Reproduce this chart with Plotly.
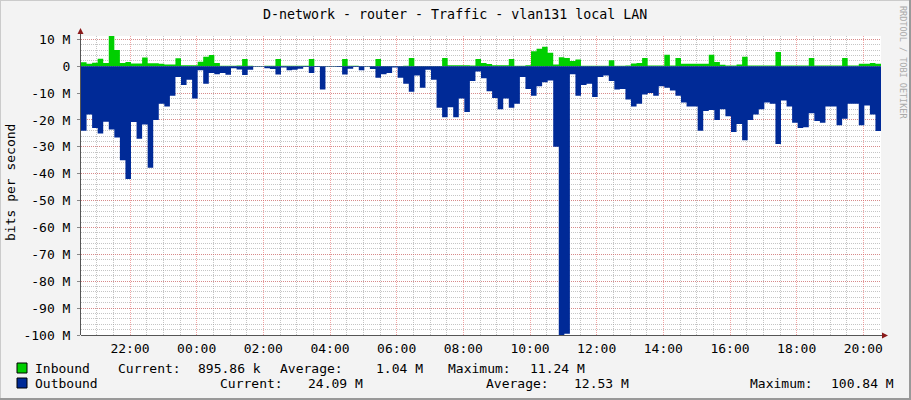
import plotly.graph_objects as go
import pandas as pd

# ---------------- data (Mbit/s, 10-minute samples) ----------------
start_time = "2024-05-13 20:31:48"
step_minutes = 10

inbound = [1.5, 0.9, 1.3, 2.8, 1.2, 11.24, 6.0, 1.2, 1.6, 1.0,
           1.0, 3.2, 1.1, 1.1, 0.9, 0.6, 0.6, 3.0, 0.4, 0.4,
           0.4, 1.7, 3.5, 4.2, 1.2, 0.2, 0.2, 0.2, 0.3, 2.7,
           0.2, 0.1, 0.1, 0.2, 0.2, 2.7, 0.2, 0.2, 0.2, 0.2,
           0.2, 2.7, 0.1, 0.1, 0.1, 0.1, 0.1, 2.7, 0.2, 0.2,
           0.1, 0.1, 0.1, 2.7, 0.1, 0.1, 0.1, 0.1, 0.2, 3.1,
           0.1, 0.1, 0.1, 0.1, 0.1, 3.1, 0.4, 0.4, 0.4, 0.4,
           0.3, 2.7, 1.2, 0.8, 0.4, 0.4, 0.4, 2.7, 0.2, 0.2,
           0.4, 5.6, 6.5, 7.2, 5.0, 0.6, 3.3, 3.1, 1.9, 2.5,
           0.2, 0.2, 0.2, 0.2, 0.2, 2.2, 0.2, 0.2, 0.3, 1.0,
           1.2, 3.1, 0.3, 0.3, 0.3, 4.3, 0.3, 3.1, 0.9, 0.9,
           0.9, 0.9, 0.9, 4.3, 1.6, 0.5, 0.3, 0.3, 0.6, 3.5,
           0.3, 0.3, 0.3, 0.3, 0.3, 5.3, 0.3, 0.3, 0.3, 0.3,
           0.3, 3.1, 0.3, 0.3, 0.3, 0.3, 0.3, 3.1, 0.3, 0.3,
           0.9, 0.9, 1.2, 0.896]

outbound = [24, 18, 23, 25, 20.7, 23.5, 26.5, 35, 42, 20.8,
            27, 21.7, 37.8, 20, 14, 15, 11, 4, 7, 5,
            12, 1.5, 6.5, 2.5, 3, 2.5, 3.2, 0.8, 1.2, 3.3,
            1.3, 0.2, 0.2, 0.8, 1.0, 3.1, 0.5, 1.5, 1.3, 0.9,
            0.3, 2.5, 0.3, 8.7, 0.2, 0.2, 0.3, 3.1, 0.9, 0.3,
            1.5, 0.2, 1.0, 4.3, 3, 2.5, 0.5, 4.3, 6.5, 9.5,
            3.5, 8, 1.3, 5, 15.5, 19, 15.3, 19, 12, 17,
            5.5, 2, 4.5, 9.3, 11.8, 16, 12, 15.5, 14, 4,
            8.5, 11, 7.5, 6, 5.3, 30, 100.84, 99.5, 3, 11,
            7, 6.5, 11.5, 4, 3.5, 5.5, 8.7, 8.5, 12.4, 15,
            14, 10.5, 10, 11, 7.5, 8, 9, 11, 13.5, 15,
            15, 24, 16.7, 16.3, 20, 16, 18.6, 24.5, 21.5, 27.5,
            20, 18, 16, 13.5, 14, 28.9, 12.8, 15, 21, 23,
            22.7, 17.5, 20.4, 21, 15, 15, 22, 19.5, 14, 14,
            22, 14.6, 18, 24.09]

y_tick_values = [10, 0, -10, -20, -30, -40, -50, -60, -70, -80, -90, -100]
y_tick_labels = ["10 M", "0", "-10 M", "-20 M", "-30 M", "-40 M", "-50 M",
                 "-60 M", "-70 M", "-80 M", "-90 M", "-100 M"]

title_text = "D-network - router - Traffic - vlan131 local LAN"
legend_rows = [
    ("Inbound", [("Current:", "895.86 k"), ("Average:", "1.04 M"), ("Maximum:", "11.24 M")]),
    ("Outbound", [("Current:", "24.09 M"), ("Average:", "12.53 M"), ("Maximum:", "100.84 M")]),
]

# ---------------- styling ----------------
GREEN = "#00CF00"
BLUE = "#002A97"
FONT = "DejaVu Sans Mono"
W, H = 911, 400
L, R, T, B = 81, 30, 36, 65
PW, PH = W - L - R, H - T - B


def px(x):
    return (x - L) / PW


def py(y):
    return (H - B - y) / PH


t0 = pd.Timestamp(start_time)
times = list(pd.date_range(t0, periods=len(outbound) + 1, freq=f"{step_minutes}min"))
t_end = t0 + pd.Timedelta(hours=24)

in_y = inbound + [inbound[-1]]
out_y = [-v for v in outbound] + [-outbound[-1]]

fig = go.Figure()
fig.add_trace(go.Scatter(x=times, y=in_y, mode="lines", line=dict(width=0, shape="hv", color=GREEN),
                         fill="tozeroy", fillcolor=GREEN, hoverinfo="skip", showlegend=False))
fig.add_trace(go.Scatter(x=times, y=out_y, mode="lines", line=dict(width=0, shape="hv", color=BLUE),
                         fill="tozeroy", fillcolor=BLUE, hoverinfo="skip", showlegend=False))

major = "rgba(230,90,90,0.55)"
minor = "rgba(150,150,150,0.55)"

fig.update_xaxes(
    range=[t0, t_end], type="date",
    tick0="2024-05-13 00:00", dtick=2 * 3600 * 1000, tickformat="%H:%M",
    showgrid=True, gridcolor=major, griddash="1px,1px", gridwidth=1,
    minor=dict(dtick=30 * 60 * 1000, showgrid=True, gridcolor=minor, griddash="1px,1px"),
    ticks="", showline=False, zeroline=False,
    tickfont=dict(family=FONT, size=13, color="#000"),
    ticklabelstandoff=4,
)
fig.update_yaxes(
    range=[-100, 11.24], tickvals=y_tick_values, ticktext=y_tick_labels,
    showgrid=True, gridcolor=major, griddash="1px,1px", gridwidth=1,
    minor=dict(dtick=2, showgrid=True, gridcolor=minor, griddash="1px,1px"),
    ticks="outside", ticklen=3, tickcolor="#888", showline=False, zeroline=False,
    tickfont=dict(family=FONT, size=13, color="#000"),
    ticklabelstandoff=4,
)

shapes = []
# outer frame (3D look)
shapes.append(dict(type="line", xref="paper", yref="paper", x0=px(0), x1=px(W), y0=py(0.5), y1=py(0.5),
                   line=dict(color="#CBCBCB", width=1)))
shapes.append(dict(type="line", xref="paper", yref="paper", x0=px(0.5), x1=px(0.5), y0=py(0), y1=py(H),
                   line=dict(color="#CBCBCB", width=1)))
shapes.append(dict(type="line", xref="paper", yref="paper", x0=px(0), x1=px(W), y0=py(H - 1), y1=py(H - 1),
                   line=dict(color="#999999", width=2)))
shapes.append(dict(type="line", xref="paper", yref="paper", x0=px(W - 1), x1=px(W - 1), y0=py(0), y1=py(H),
                   line=dict(color="#999999", width=2)))
# axes with arrows
shapes.append(dict(type="line", xref="paper", yref="paper", x0=px(80.5), x1=px(80.5), y0=py(H - B), y1=py(32),
                   line=dict(color="#555555", width=1), layer="above"))
shapes.append(dict(type="line", xref="paper", yref="paper", x0=px(L), x1=px(884), y0=py(335.5), y1=py(335.5),
                   line=dict(color="#555555", width=1), layer="above"))
shapes.append(dict(type="path", xref="paper", yref="paper",
                   path=f"M {px(77.5)} {py(34)} L {px(83.5)} {py(34)} L {px(80.5)} {py(28)} Z",
                   fillcolor="#8B1A1A", line=dict(width=0), layer="above"))
shapes.append(dict(type="path", xref="paper", yref="paper",
                   path=f"M {px(882)} {py(332.5)} L {px(882)} {py(338.5)} L {px(888)} {py(335.5)} Z",
                   fillcolor="#8B1A1A", line=dict(width=0), layer="above"))
# legend boxes
for ytop, col in [(363, GREEN), (378, BLUE)]:
    shapes.append(dict(type="rect", xref="paper", yref="paper", x0=px(17), x1=px(27), y0=py(ytop + 10), y1=py(ytop),
                       fillcolor=col, line=dict(color="#000", width=1)))

annotations = []
annotations.append(dict(text=title_text, xref="paper", yref="paper", x=px(455), y=py(14),
                        xanchor="center", yanchor="middle", showarrow=False,
                        font=dict(family=FONT, size=13.3, color="#000")))
annotations.append(dict(text="bits per second", xref="paper", yref="paper", x=px(10), y=py(183),
                        xanchor="center", yanchor="middle", showarrow=False, textangle=-90,
                        font=dict(family=FONT, size=13, color="#000")))
annotations.append(dict(text="RRDTOOL / TOBI OETIKER", xref="paper", yref="paper", x=px(903), y=py(62),
                        xanchor="center", yanchor="middle", showarrow=False, textangle=90,
                        font=dict(family=FONT, size=8.5, color="#AAAAAA")))

row_y = [368, 383.5]
row_x = [
    [34, 116.7, 196.7, 278.7, 375, 446.7, 529],
    [34, 219.3, 306.7, 485, 573.3, 749.3, 830],
]
for (name, stats), ycen, xs in zip(legend_rows, row_y, row_x):
    pieces = [name]
    for lab, val in stats:
        pieces += [lab, val]
    for txt, xl in zip(pieces, xs):
        annotations.append(dict(text=txt, xref="paper", yref="paper", x=px(xl - 1), y=py(ycen),
                                xanchor="left", yanchor="middle", showarrow=False,
                                font=dict(family=FONT, size=13, color="#000")))

fig.update_layout(
    width=W, height=H,
    margin=dict(l=L, r=R, t=T, b=B),
    paper_bgcolor="#F3F3F3", plot_bgcolor="#FFFFFF",
    shapes=shapes, annotations=annotations, showlegend=False,
)

fig.write_html("out.html", config={"displayModeBar": False},
               post_script="document.body.style.margin='0';document.body.style.padding='0';")
